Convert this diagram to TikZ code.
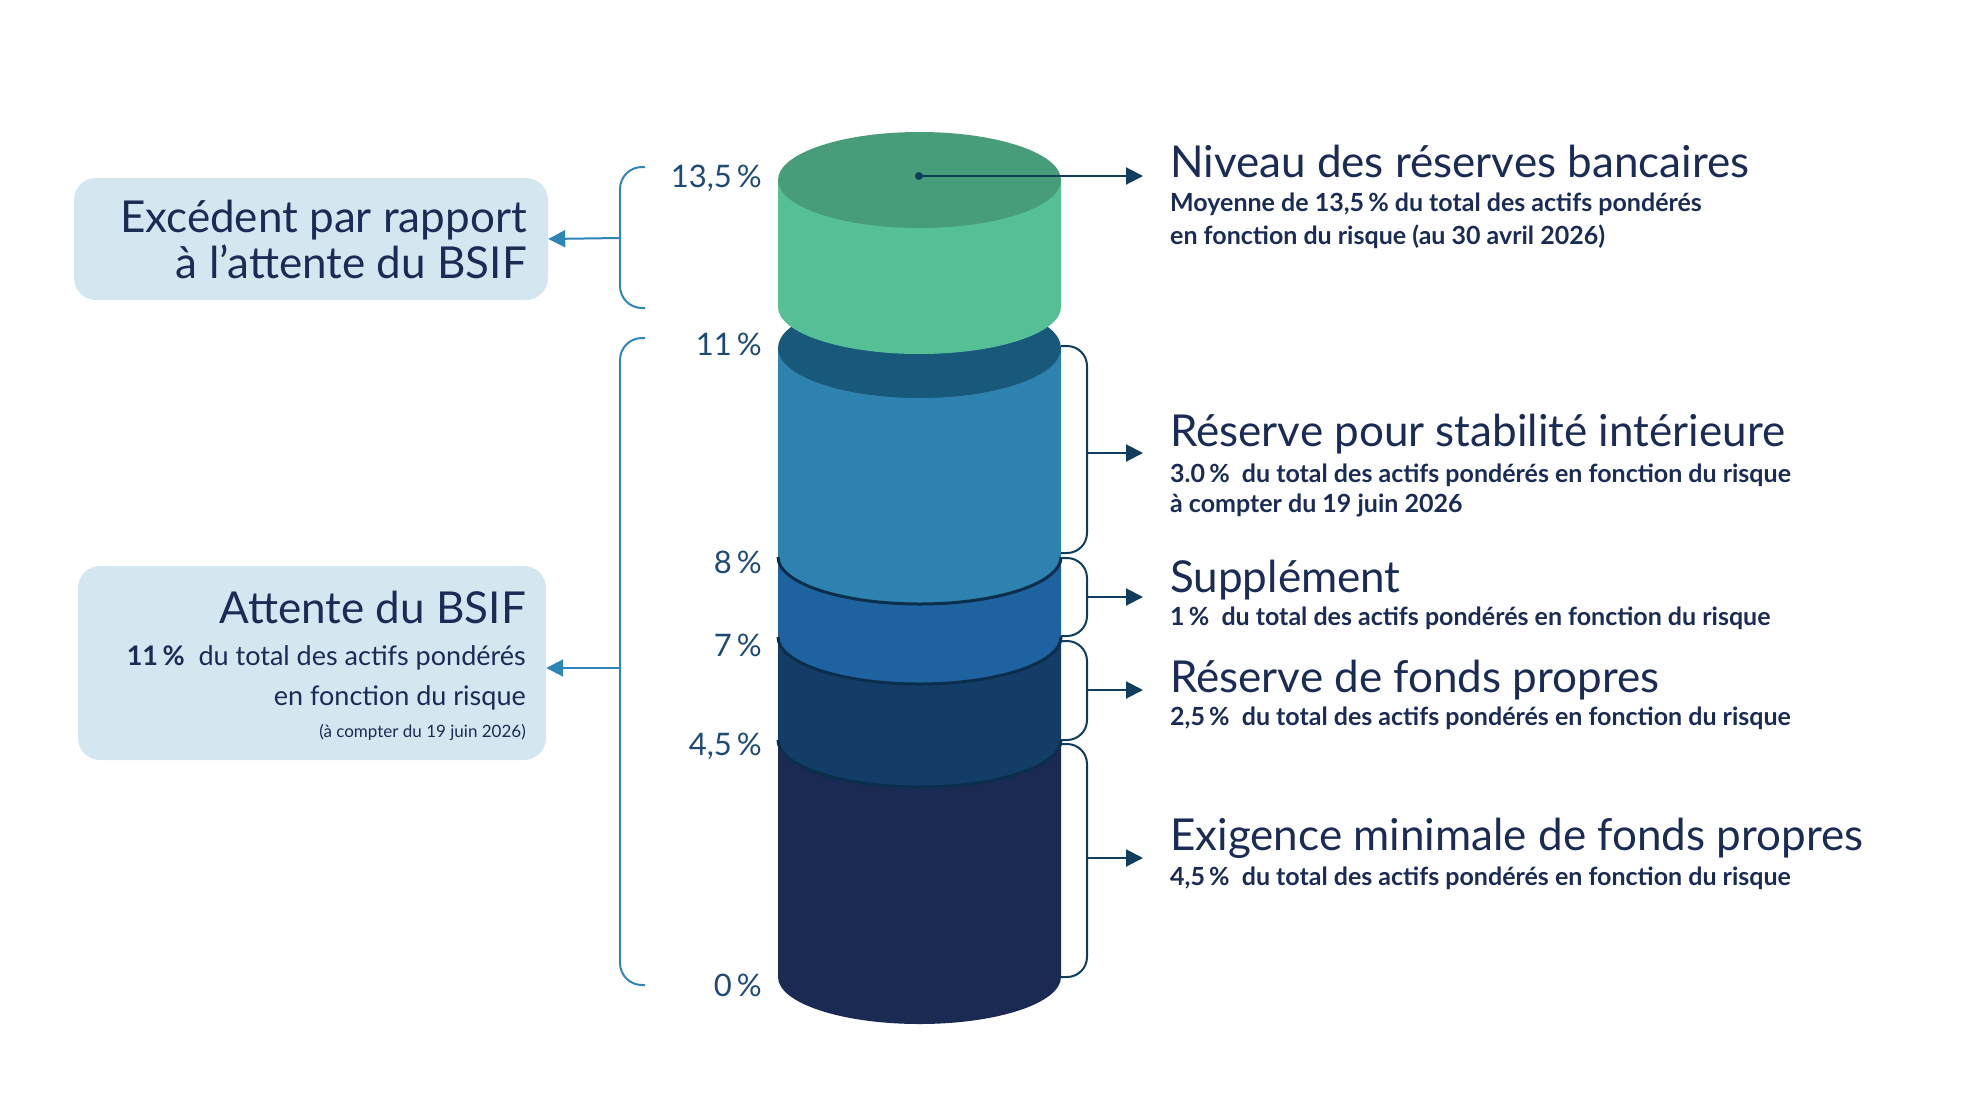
\documentclass[tikz,border=0pt]{standalone}
\usepackage{fontspec}
\setmainfont{Lato}
\usetikzlibrary{arrows.meta}
\definecolor{txt}{HTML}{1A2B55}
\definecolor{pct}{HTML}{1D4A78}
\definecolor{arr}{HTML}{0F3D5E}
\definecolor{larr}{HTML}{2E86B8}
\definecolor{boxf}{HTML}{D4E6F0}
\definecolor{gtop}{HTML}{479C7A}
\definecolor{gside}{HTML}{55BF96}
\definecolor{btop}{HTML}{17587B}
\definecolor{bside}{HTML}{2E82B0}
\definecolor{mside}{HTML}{1E63A0}
\definecolor{dside}{HTML}{133C66}
\definecolor{nside}{HTML}{1A2A52}
\definecolor{seam}{HTML}{0B2E4C}
\newcommand\ftitle{\fontsize{44}{52}\selectfont}
\newcommand\fsub{\fontsize{25}{33}\selectfont}
\newcommand\fpct{\fontsize{31}{36}\selectfont}
\begin{document}
\begin{tikzpicture}[x=1pt,y=-1pt,
  title/.style={anchor=base west,inner sep=0,text=txt,font=\ftitle},
  sub/.style={anchor=base west,inner sep=0,text=txt,font=\fsub\bfseries},
  ltitle/.style={anchor=base east,inner sep=0,text=txt,font=\ftitle},
  pctl/.style={anchor=base east,inner sep=0,text=pct,font=\fpct},
  box/.style={fill=boxf,rounded corners=22pt,inner sep=0},
  rbrace/.style={draw=arr,line width=2pt,rounded corners=20pt},
  lbrace/.style={draw=larr,line width=2pt,rounded corners=22pt},
  rarrow/.style={draw=arr,line width=2pt,-{Triangle[length=17pt,width=17pt]}},
  larrow/.style={draw=larr,line width=2pt,-{Triangle[length=17pt,width=17pt]}},
  seamline/.style={draw=seam,line width=3pt}]
\useasboundingbox (0,0) rectangle (1965,1114);
% cylinder layers
\fill[nside] (778,743) -- (778,977) arc[start angle=180,end angle=0,x radius=141.5,y radius=47] -- (1061,743) -- cycle;
\fill[dside] (778,640) -- (778,740) arc[start angle=180,end angle=0,x radius=141.5,y radius=47] -- (1061,640) -- cycle;
\draw[seamline] (778,740) arc[start angle=180,end angle=0,x radius=141.5,y radius=47];
\fill[mside] (778,557) -- (778,637) arc[start angle=180,end angle=0,x radius=141.5,y radius=47] -- (1061,557) -- cycle;
\draw[seamline] (778,637) arc[start angle=180,end angle=0,x radius=141.5,y radius=47];
\fill[bside] (778,348) -- (778,557) arc[start angle=180,end angle=0,x radius=141.5,y radius=47] -- (1061,348) -- cycle;
\draw[seamline] (778,557) arc[start angle=180,end angle=0,x radius=141.5,y radius=47];
\fill[btop] (919.5,348) ellipse[x radius=141.5,y radius=50];
\fill[gside] (778,180) -- (778,307) arc[start angle=180,end angle=0,x radius=141.5,y radius=47] -- (1061,180) -- cycle;
\fill[gtop] (919.5,180) ellipse[x radius=141.5,y radius=48];
% percent labels
\node[pctl] (p135) at (762,187) {13,5\,\%};
\node[pctl] (p11) at (762,355) {11\,\%};
\node[pctl] (p8) at (762,573) {8\,\%};
\node[pctl] (p7) at (762,656) {7\,\%};
\node[pctl] (p45) at (762,755) {4,5\,\%};
\node[pctl] (p0) at (762,996) {0\,\%};
% right texts
\node[title] (t1) at (1170,177) {Niveau des réserves bancaires};
\node[sub] (s1a) at (1170,211) {Moyenne de 13,5\,\% du total des actifs pondérés};
\node[sub] (s1b) at (1170,244) {en fonction du risque (au 30 avril 2026)};
\node[title] (t2) at (1170,446) {Réserve pour stabilité intérieure};
\node[sub] (s2a) at (1170,482) {3.0\,\%\ \ du total des actifs pondérés en fonction du risque};
\node[sub] (s2b) at (1170,512) {à compter du 19 juin 2026};
\node[title] (t3) at (1170,592) {Supplément};
\node[sub] (s3) at (1170,625) {1\,\%\ \ du total des actifs pondérés en fonction du risque};
\node[title] (t4) at (1170,692) {Réserve de fonds propres};
\node[sub] (s4) at (1170,725) {2,5\,\%\ \ du total des actifs pondérés en fonction du risque};
\node[title] (t5) at (1170,850) {Exigence minimale de fonds propres};
\node[sub] (s5) at (1170,885) {4,5\,\%\ \ du total des actifs pondérés en fonction du risque};
% top pointer
\fill[arr] (919,176) circle[radius=4] coordinate (dot);
\coordinate (a1) at (1143,176);
\draw[rarrow] (dot) -- (a1);
% right braces
\draw[rbrace] (1061,346) -- (1087,346) -- (1087,553) -- (1061,553);
\draw[rbrace] (1061,558) -- (1087,558) -- (1087,636) -- (1061,636);
\draw[rbrace] (1061,641) -- (1087,641) -- (1087,740) -- (1061,740);
\draw[rbrace] (1061,744) -- (1087,744) -- (1087,977) -- (1061,977);
\coordinate (r2) at (1087,453); \coordinate (a2) at (1143,453);
\coordinate (r3) at (1087,597); \coordinate (a3) at (1143,597);
\coordinate (r4) at (1087,690); \coordinate (a4) at (1143,690);
\coordinate (r5) at (1087,858); \coordinate (a5) at (1143,858);
\draw[rarrow] (r2) -- (a2);
\draw[rarrow] (r3) -- (a3);
\draw[rarrow] (r4) -- (a4);
\draw[rarrow] (r5) -- (a5);
% left boxes
\node[box,minimum width=474pt,minimum height=122pt] (b1) at (311,239) {};
\node[ltitle] (lt1) at (527,232) {Excédent par rapport};
\node[ltitle] (lt1b) at (527,278) {à l’attente du BSIF};
\node[box,minimum width=468pt,minimum height=194pt] (b2) at (312,663) {};
\node[ltitle] (lt2) at (526,623) {Attente du BSIF};
\node[anchor=base east,inner sep=0,text=txt,font=\fontsize{27}{32}\selectfont] (lt2b) at (526,665) {\textbf{11\,\%}\ \ du total des actifs pondérés};
\node[anchor=base east,inner sep=0,text=txt,font=\fontsize{27}{32}\selectfont] (lt2c) at (526,705) {en fonction du risque};
\node[anchor=base east,inner sep=0,text=txt,font=\fontsize{17}{20}\selectfont] (lt2d) at (526,737) {(à compter du 19 juin 2026)};
% left braces
\draw[lbrace] (645,167) -- (620,167) -- (620,308) -- (645,308);
\draw[lbrace] (645,338) -- (620,338) -- (620,985) -- (645,985);
\coordinate (l1) at (620,238); \coordinate (l2) at (620,668);
\draw[larrow] (l1) -- (b1.east);
\draw[larrow] (l2) -- (b2.east |- l2);
\end{tikzpicture}
\end{document}
